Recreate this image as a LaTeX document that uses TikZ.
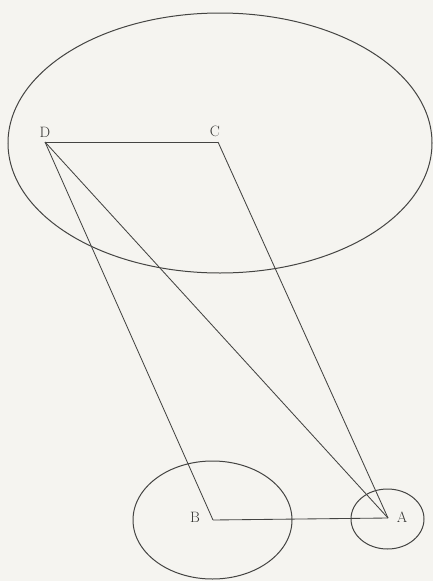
\documentclass[tikz,border=0pt]{standalone}
\usetikzlibrary{shapes.geometric}
\definecolor{paper}{HTML}{F5F4F0}
\definecolor{ink}{HTML}{444442}
\definecolor{textink}{HTML}{333331}
\begin{document}
\begin{tikzpicture}[x=1pt,y=-1pt,
  edge/.style={draw=ink,line width=0.85pt},
  orb/.style={draw=ink,line width=1pt},
  lbl/.style={text=textink,inner sep=0pt,font=\fontsize{15}{17}\selectfont}]
\fill[paper] (0,0) rectangle (433,581);
\useasboundingbox (0,0) rectangle (433,581);
\begin{scope}
\clip (0,0) rectangle (433,581);
\draw[orb] (220,143) ellipse [x radius=212, y radius=130];
\draw[orb] (212.5,520) ellipse [x radius=79.5, y radius=59];
\draw[orb] (387.5,519) ellipse [x radius=36.5, y radius=30];
\end{scope}
\coordinate (D) at (45,142);
\coordinate (C) at (218,142);
\coordinate (B) at (213,520);
\coordinate (A) at (388,518);
\draw[edge] (D) -- (C);
\draw[edge] (D) -- (B);
\draw[edge] (D) -- (A);
\draw[edge] (C) -- (A);
\draw[edge] (B) -- (A);
\node[lbl] (lD) at (45,132) {D};
\node[lbl] (lC) at (215,131) {C};
\node[lbl] (lB) at (195,517) {B};
\node[lbl] (lA) at (402,517) {A};
\end{tikzpicture}
\end{document}
